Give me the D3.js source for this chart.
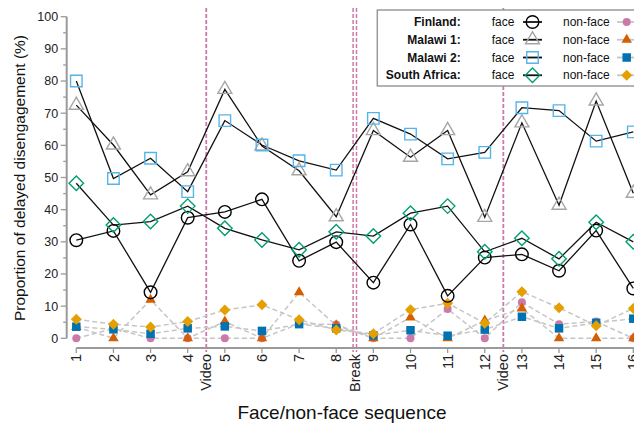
<!DOCTYPE html>
<html><head><meta charset="utf-8">
<script src="https://cdn.jsdelivr.net/npm/d3@7/dist/d3.min.js"></script>
<style>body{margin:0;background:#fff}svg{display:block;font-family:"Liberation Sans",Arial,sans-serif}</style>
</head><body><svg id="c" width="634" height="424"></svg>
<script>
const sequence = [1,2,3,4,5,6,7,8,9,10,11,12,13,14,15,16];
const yTicks = [0,10,20,30,40,50,60,70,80,90,100];
const markerLabels = [{label:"Video", at:4.5},{label:"Break", at:8.5},{label:"Video", at:12.5}];

const finlandFace    = [30.5,33.4,14.3,37.5,39.3,43.2,24.1,29.9,17.3,35.4,13.2,25.1,26.1,21.0,33.5,15.5];
const finlandNonFace = [0,3,0,0,0,0,4.5,4.3,0,0,9.1,0,11.2,4.4,5.2,0];
const malawi1Face    = [72.5,60.1,44.6,51.8,77.4,59.8,52.1,37.8,64.6,56.3,64.6,37.6,67.0,41.4,73.8,45.1];
const malawi1NonFace = [3.5,0,12.0,0,5.2,0,14.3,4.0,0,6.5,0,5.5,9.3,0,0,0];
const malawi2Face    = [80.0,49.7,56.0,45.6,67.7,60.1,55.2,52.3,68.4,63.5,55.8,57.8,71.7,70.8,61.3,64.2];
const malawi2NonFace = [3.6,2.8,1.4,3.1,3.7,2.3,4.4,3.1,0.9,2.5,0.8,2.7,6.7,3.1,4.8,6.1];
const saFace         = [48.2,35.2,36.3,41.1,34.2,30.6,27.5,33.1,31.8,38.9,41.1,26.9,31.1,24.7,36.1,30.0];
const saNonFace      = [5.9,4.4,3.5,5.2,8.8,10.4,5.8,2.6,1.4,8.9,10.9,4.7,14.5,9.5,3.9,9.3];

const countries = ["Finland:","Malawi 1:","Malawi 2:","South Africa:"];

const svg = d3.select("#c");
const x = d3.scaleLinear().domain([1,16]).range([76.3,633.3]);
const y = d3.scaleLinear().domain([0,100]).range([338.3,16.7]);

const series = [
  {face:finlandFace, non:finlandNonFace, shape:"circle", faceColor:"#000000", nonColor:"#CC79A7"},
  {face:malawi1Face, non:malawi1NonFace, shape:"triangle", faceColor:"#A6A6A6", nonColor:"#D55E00"},
  {face:malawi2Face, non:malawi2NonFace, shape:"square", faceColor:"#56B4E9", nonColor:"#0072B2"},
  {face:saFace, non:saNonFace, shape:"diamond", faceColor:"#009E73", nonColor:"#E69F00"}
];

function shapePath(shape, s){
  if(shape==="circle"){ const r=s/2; return `M${r},0A${r},${r},0,1,1,${-r},0A${r},${r},0,1,1,${r},0Z`; }
  if(shape==="square"){ const h=s/2; return `M${-h},${-h}H${h}V${h}H${-h}Z`; }
  if(shape==="diamond"){ const h=s/2; return `M0,${-h}L${h},0L0,${h}L${-h},0Z`; }
  if(shape==="triangle"){ const h=s*0.866; return `M0,${-h*2/3}L${s/2},${h/3}L${-s/2},${h/3}Z`; }
}
const faceSize = {circle:12.6, triangle:14, square:11.5, diamond:14.5};
const nonSize  = {circle:8, triangle:10.5, square:8.5, diamond:11};

// vertical separator lines
const vg = svg.append("g");
markerLabels.forEach(m=>{
  const offs = m.label==="Break" ? [-1.7,1.7] : [0];
  offs.forEach(o=>{
    vg.append("line").attr("x1",x(m.at)+o).attr("x2",x(m.at)+o).attr("y1",8).attr("y2",352)
      .attr("stroke","#CC79A7").attr("stroke-width", m.label==="Break"?1.5:1.8).attr("stroke-dasharray","4,2");
  });
});

// axes
const axCol = "#9a9a9a";
const yAxis = svg.append("g").attr("transform","translate(66.7,0)");
yAxis.append("line").attr("y1",y(100)).attr("y2",y(0)).attr("stroke",axCol).attr("stroke-width",2);
d3.range(0,101,5).forEach(v=>{
  const major = v%10===0;
  yAxis.append("line").attr("x1",major?-6:-3.5).attr("x2",0).attr("y1",y(v)).attr("y2",y(v)).attr("stroke",axCol).attr("stroke-width",1.3);
});
yAxis.selectAll("text.t").data(yTicks).join("text").attr("class","t")
  .attr("x",-8.5).attr("y",d=>y(d)).attr("dy","0.35em").attr("text-anchor","end")
  .attr("font-size",12.5).attr("fill","#222").text(d=>d);

const xAxis = svg.append("g").attr("transform","translate(0,348)");
xAxis.append("line").attr("x1",x(1)).attr("x2",640).attr("stroke",axCol).attr("stroke-width",2);
sequence.forEach(v=>{
  xAxis.append("line").attr("x1",x(v)).attr("x2",x(v)).attr("y1",0).attr("y2",5).attr("stroke",axCol).attr("stroke-width",1.3);
});
const xl = sequence.map(v=>({label:String(v), at:v})).concat(markerLabels);
xAxis.selectAll("text.t").data(xl).join("text").attr("class","t")
  .attr("transform",d=>`translate(${x(d.at)},6) rotate(-90)`)
  .attr("dy","0.35em").attr("text-anchor","end").attr("font-size",14.5).attr("fill","#222").text(d=>d.label);

svg.append("text").attr("x",342).attr("y",419).attr("text-anchor","middle").attr("font-size",19).attr("fill","#111").text("Face/non-face sequence");
svg.append("text").attr("transform","translate(25,178) rotate(-90)").attr("text-anchor","middle").attr("font-size",15.5).attr("fill","#111").text("Proportion of delayed disengagement (%)");

const line = d3.line().x((d,i)=>x(sequence[i])).y(d=>y(d));

// non-face lines then markers
const ng = svg.append("g");
series.forEach(s=>{
  ng.append("path").attr("d",line(s.non)).attr("fill","none").attr("stroke","#c6c6c6").attr("stroke-width",1.5).attr("stroke-dasharray","5,3");
});
series.forEach(s=>{
  ng.append("g").selectAll("path").data(s.non).join("path")
    .attr("transform",(d,i)=>`translate(${x(sequence[i])},${y(d)})`)
    .attr("d",shapePath(s.shape,nonSize[s.shape])).attr("fill",s.nonColor);
});

// face lines and markers
const fg = svg.append("g");
series.forEach(s=>{
  fg.append("path").attr("d",line(s.face)).attr("fill","none").attr("stroke","#111").attr("stroke-width",1.3);
});
series.forEach(s=>{
  fg.append("g").selectAll("path").data(s.face).join("path")
    .attr("transform",(d,i)=>`translate(${x(sequence[i])},${y(d)})`)
    .attr("d",shapePath(s.shape,faceSize[s.shape])).attr("fill","none").attr("stroke",s.faceColor).attr("stroke-width",1.4);
});

// legend
const lg = svg.append("g");
lg.append("rect").attr("x",377.3).attr("y",10).attr("width",280).attr("height",76).attr("fill","#fff").attr("stroke",axCol).attr("stroke-width",1.5);
series.forEach((s,i)=>{
  const yy = 22 + i*17.75;
  lg.append("text").attr("x",460.7).attr("y",yy).attr("dy","0.35em").attr("text-anchor","end").attr("font-size",12).attr("font-weight","bold").attr("fill","#111").text(countries[i]);
  lg.append("text").attr("x",491.7).attr("y",yy).attr("dy","0.35em").attr("font-size",12).attr("fill","#111").text("face");
  lg.append("line").attr("x1",523).attr("x2",542).attr("y1",yy).attr("y2",yy).attr("stroke","#111").attr("stroke-width",1.8);
  lg.append("path").attr("transform",`translate(532.5,${yy})`).attr("d",shapePath(s.shape,faceSize[s.shape])).attr("fill","none").attr("stroke",s.faceColor).attr("stroke-width",1.4);
  lg.append("text").attr("x",563).attr("y",yy).attr("dy","0.35em").attr("font-size",12).attr("fill","#111").text("non-face");
  lg.append("line").attr("x1",617).attr("x2",636).attr("y1",yy).attr("y2",yy).attr("stroke","#c6c6c6").attr("stroke-width",1.8);
  lg.append("path").attr("transform",`translate(626.7,${yy})`).attr("d",shapePath(s.shape,nonSize[s.shape])).attr("fill",s.nonColor);
});
</script></body></html>
